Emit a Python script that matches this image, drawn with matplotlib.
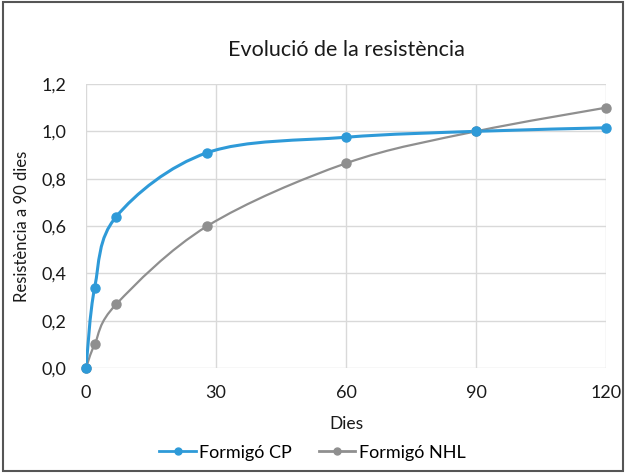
import matplotlib.pyplot as plt
from matplotlib.path import Path
from matplotlib.patches import PathPatch, Rectangle
from matplotlib.lines import Line2D

plt.rcParams['font.family'] = ['Lato', 'DejaVu Sans']

# data
dies = [0, 2, 7, 28, 60, 90, 120]
formigo_cp = [0.0, 0.34, 0.64, 0.91, 0.975, 1.0, 1.015]
formigo_nhl = [0.0, 0.10, 0.27, 0.60, 0.865, 1.0, 1.10]
xticks = [0, 30, 60, 90, 120]
yticks = [0.0, 0.2, 0.4, 0.6, 0.8, 1.0, 1.2]

color_cp = '#2e9ad8'
color_nhl = '#8f8f8f'


def smooth_path(xs, ys):
    # Excel-style smoothed line: cubic bezier segments through the points
    pts = list(zip(xs, ys))
    n = len(pts)
    verts = [pts[0]]
    codes = [Path.MOVETO]
    for i in range(n - 1):
        p0 = pts[i - 1] if i > 0 else pts[i]
        p1 = pts[i]
        p2 = pts[i + 1]
        p3 = pts[i + 2] if i + 2 < n else pts[i + 1]
        c1 = (p1[0] + (p2[0] - p0[0]) / 6, p1[1] + (p2[1] - p0[1]) / 6)
        c2 = (p2[0] - (p3[0] - p1[0]) / 6, p2[1] - (p3[1] - p1[1]) / 6)
        verts += [c1, c2, p2]
        codes += [Path.CURVE4] * 3
    return Path(verts, codes)


fig = plt.figure(figsize=(6.25, 4.73), dpi=100)
ax = fig.add_axes([0.1376, 0.222, 0.832, 0.6004])

for ys, col, lw in [(formigo_nhl, color_nhl, 1.6), (formigo_cp, color_cp, 2.2)]:
    ax.add_patch(PathPatch(smooth_path(dies, ys), facecolor='none',
                           edgecolor=col, lw=lw, zorder=3))
    ax.plot(dies, ys, 'o', color=col, ms=6.5, zorder=4, clip_on=False)

ax.set_xlim(0, 120)
ax.set_ylim(0, 1.2)
ax.set_xticks(xticks)
ax.set_yticks(yticks)
ax.set_yticklabels([f'{v:.1f}'.replace('.', ',') for v in yticks])
ax.tick_params(length=0, labelsize=13, colors='#1a1a1a')
ax.tick_params(axis='x', pad=12)
ax.tick_params(axis='y', pad=14)
ax.grid(color='#d9d9d9', lw=1)
ax.set_axisbelow(True)
for s in ax.spines.values():
    s.set_visible(False)

ax.set_title('Evolució de la resistència', fontsize=15.5, color='#1a1a1a', pad=20)
ax.set_xlabel('Dies', fontsize=12.5, color='#1a1a1a', labelpad=11)
ax.set_ylabel('Resistència a 90 dies', fontsize=12, color='#1a1a1a', labelpad=8)

handles = [Line2D([], [], color=color_cp, lw=2, marker='o', ms=5),
           Line2D([], [], color=color_nhl, lw=2, marker='o', ms=5)]
fig.legend(handles, ['Formigó CP', 'Formigó NHL'], loc='center',
           bbox_to_anchor=(0.5, 0.043), ncol=2, frameon=False, fontsize=13,
           handlelength=2.0, handletextpad=0.2, columnspacing=1.5)

fig.add_artist(Rectangle((0.004, 0.004), 0.992, 0.992, transform=fig.transFigure,
                         fill=False, edgecolor='#555555', lw=1.5))

fig.savefig('out.png', dpi=100)
